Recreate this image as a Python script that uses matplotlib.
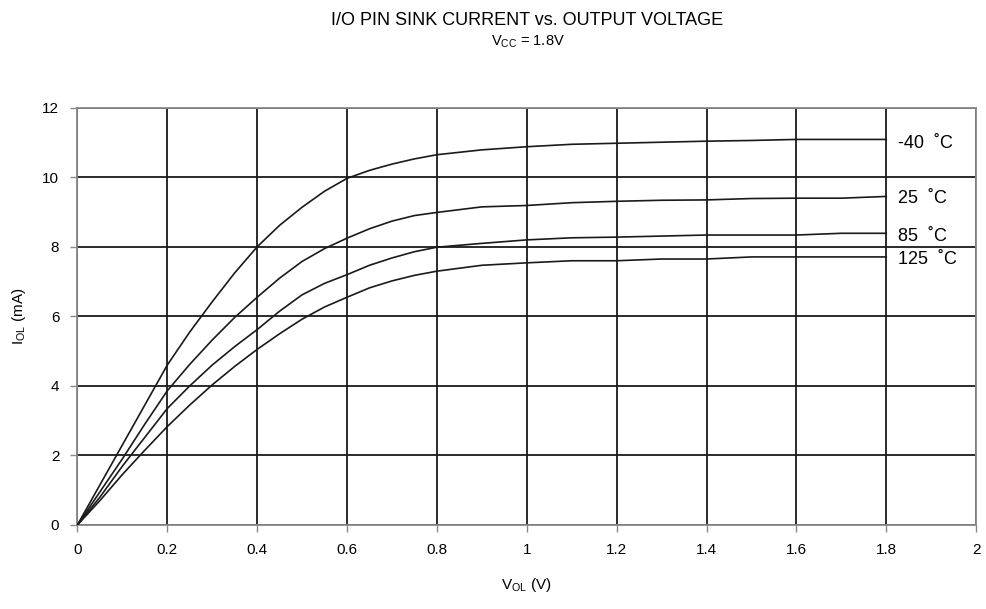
import matplotlib.pyplot as plt

plt.rcParams['font.family'] = ['Liberation Sans', 'DejaVu Sans']

# Output voltage (V)
v_ol = [0, 0.05, 0.1, 0.15, 0.2, 0.25, 0.3, 0.35, 0.4, 0.45, 0.5, 0.55,
        0.6, 0.65, 0.7, 0.75, 0.8, 0.9, 1.0, 1.1, 1.2, 1.3, 1.4, 1.5,
        1.6, 1.7, 1.8]

# Sink current (mA) per temperature
i_m40 = [0, 1.15, 2.3, 3.45, 4.6, 5.55, 6.42, 7.25, 8.0, 8.62, 9.14, 9.6,
         9.97, 10.2, 10.38, 10.53, 10.65, 10.79, 10.88, 10.95, 10.98, 11.01,
         11.04, 11.06, 11.09, 11.09, 11.09]
i_25 = [0, 0.95, 1.9, 2.9, 3.86, 4.62, 5.32, 5.97, 6.55, 7.1, 7.58, 7.95,
        8.25, 8.52, 8.74, 8.9, 8.99, 9.15, 9.19, 9.27, 9.31, 9.34,
        9.35, 9.39, 9.40, 9.40, 9.45]
i_85 = [0, 0.8, 1.69, 2.52, 3.35, 4.0, 4.6, 5.13, 5.62, 6.15, 6.62, 6.95,
        7.2, 7.47, 7.68, 7.86, 7.99, 8.1, 8.2, 8.26, 8.28, 8.31,
        8.34, 8.34, 8.34, 8.39, 8.39]
i_125 = [0, 0.7, 1.45, 2.15, 2.83, 3.45, 4.03, 4.56, 5.05, 5.5, 5.92, 6.27,
         6.55, 6.82, 7.02, 7.18, 7.3, 7.47, 7.54, 7.6, 7.6, 7.65,
         7.65, 7.71, 7.71, 7.71, 7.71]

series = [i_m40, i_25, i_85, i_125]
labels = ['-40  ˚C', '25  ˚C', '85  ˚C', '125  ˚C']
label_y = [10.96, 9.4, 8.3, 7.63]

x_ticks = [0, 0.2, 0.4, 0.6, 0.8, 1, 1.2, 1.4, 1.6, 1.8, 2]
x_ticklabels = ['0', '0.2', '0.4', '0.6', '0.8', '1', '1.2', '1.4', '1.6', '1.8', '2']
y_ticks = [0, 2, 4, 6, 8, 10, 12]

fig = plt.figure(figsize=(9.86, 6.09), dpi=100)
ax = fig.add_axes([0.0785, 0.138, 0.9115, 0.685])

for ys in series:
    ax.plot(v_ol, ys, color='#1a1a1a', lw=1.2, zorder=3)

for lab, ly in zip(labels, label_y):
    ax.text(1.825, ly, lab, fontsize=13, va='center', ha='left', zorder=4)

ax.set_xlim(0, 2)
ax.set_ylim(0, 12)
ax.set_xticks(x_ticks)
ax.set_xticklabels(x_ticklabels)
ax.set_yticks(y_ticks)
ax.tick_params(labelsize=11, length=5, width=1, color='#888888', pad=8)
ax.grid(True, color='#1a1a1a', lw=1.3)
ax.set_axisbelow(True)
for sp in ax.spines.values():
    sp.set_color('#888888')
    sp.set_linewidth(1.3)

ax.set_xlabel(r'V$_{\mathregular{OL}}$ (V)', fontsize=11, labelpad=14)
ax.set_ylabel(r'I$_{\mathregular{OL}}$ (mA)', fontsize=11, labelpad=10)

fig.text(0.535, 0.967, 'I/O PIN SINK CURRENT vs. OUTPUT VOLTAGE',
         ha='center', va='center', fontsize=13)
fig.text(0.535, 0.932, r'V$_{\mathregular{CC}}$ = 1.8V',
         ha='center', va='center', fontsize=10.5)

fig.savefig('out.png', dpi=100)
